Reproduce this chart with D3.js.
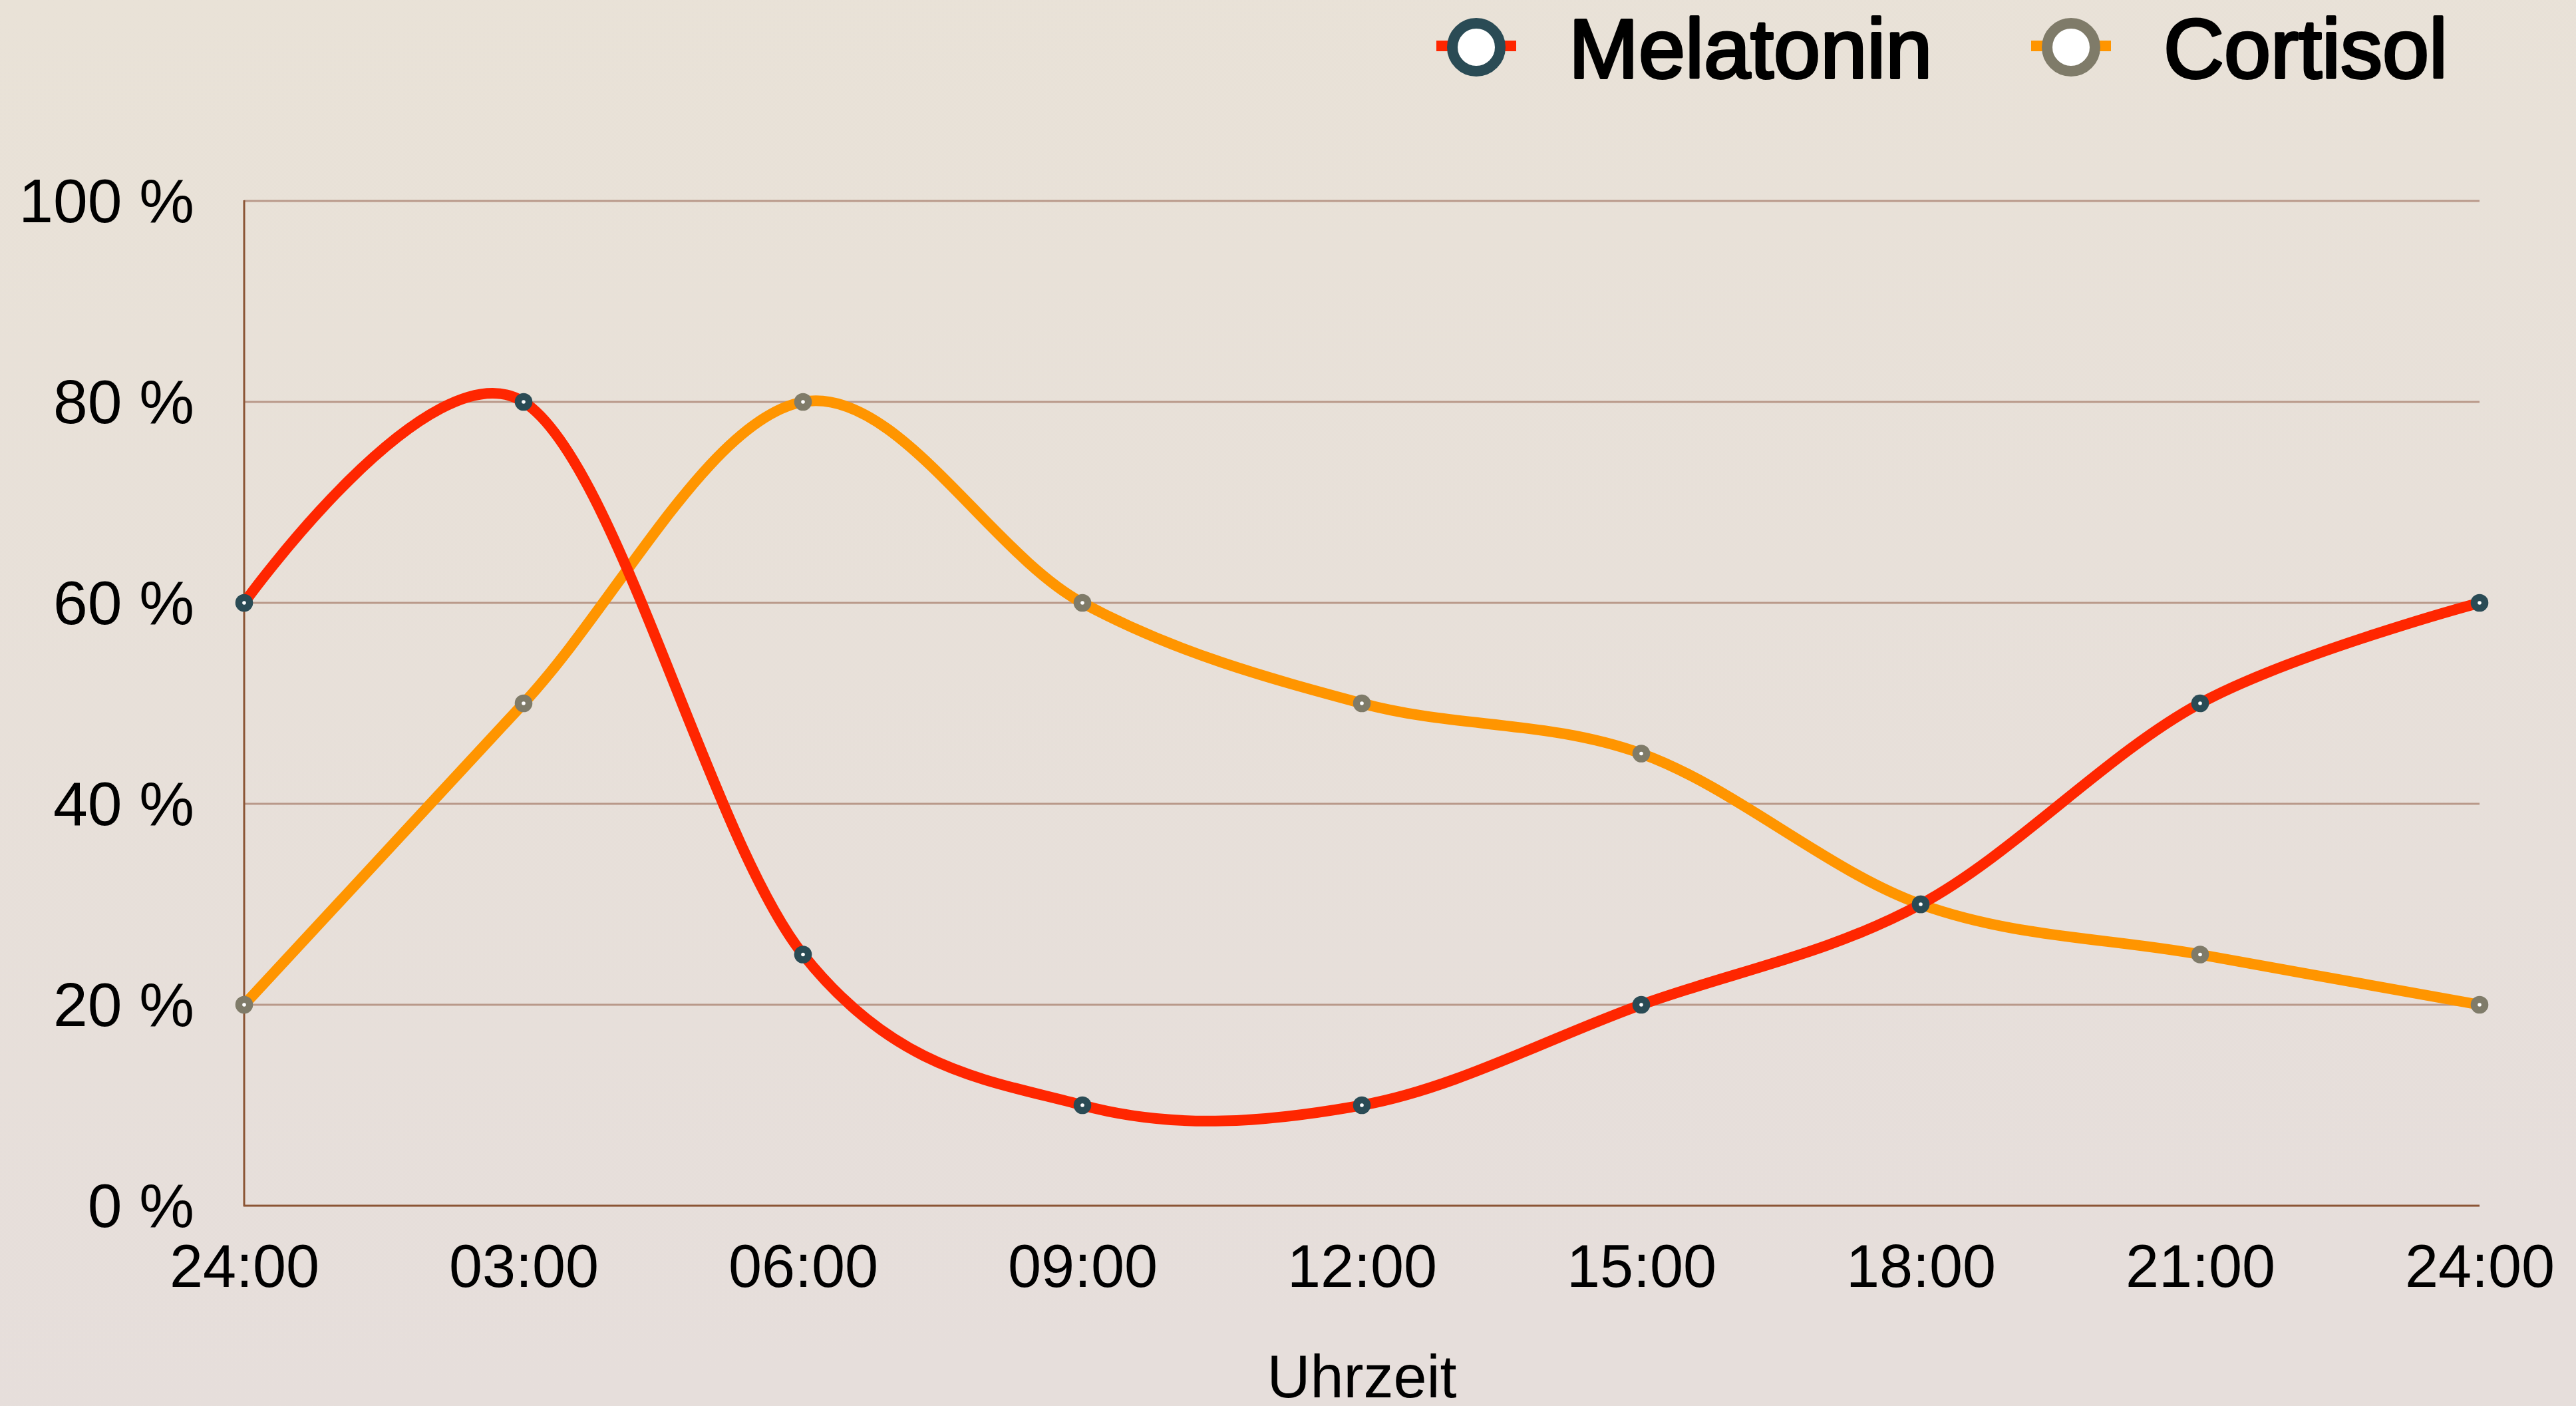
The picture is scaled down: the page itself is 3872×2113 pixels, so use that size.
<!DOCTYPE html>
<html>
<head>
<meta charset="utf-8">
<script src="https://cdn.jsdelivr.net/npm/d3@7"></script>
<style>
  html, body { margin: 0; padding: 0; }
  svg { display: block; }
</style>
</head>
<body>
<script>
const categories = ["24:00", "03:00", "06:00", "09:00", "12:00", "15:00", "18:00", "21:00", "24:00"];
const melatonin = [60, 80, 25, 10, 10, 20, 30, 50, 60];
const cortisol = [20, 50, 80, 60, 50, 45, 30, 25, 20];
const yTicks = [0, 20, 40, 60, 80, 100];
const seriesNames = ["Melatonin", "Cortisol"];
const xTitle = "Uhrzeit";

const W = 3872, H = 2113;
const margin = { left: 367, right: W - 3727, top: 302, bottom: H - 1812 };

const svg = d3.select("body").append("svg").attr("width", W).attr("height", H);
const defs = svg.append("defs");
const grad = defs.append("linearGradient").attr("id", "bg")
  .attr("x1", "0").attr("y1", "0").attr("x2", "0.15").attr("y2", "1");
grad.append("stop").attr("offset", "0").attr("stop-color", "#E9E2D7");
grad.append("stop").attr("offset", "1").attr("stop-color", "#E6DEDB");
svg.append("rect").attr("width", W).attr("height", H).attr("fill", "url(#bg)");

const x = d3.scalePoint().domain(d3.range(categories.length)).range([margin.left, W - margin.right]);
const y = d3.scaleLinear().domain([0, 100]).range([H - margin.bottom, margin.top]);

const font = "'Liberation Sans', Arial, Helvetica, sans-serif";

// gridlines
svg.append("g").selectAll("line").data(yTicks.filter(d => d > 0)).join("line")
  .attr("x1", margin.left).attr("x2", W - margin.right)
  .attr("y1", d => y(d)).attr("y2", d => y(d))
  .attr("stroke", "#B9998A").attr("stroke-width", 3);

// axes lines
svg.append("line").attr("x1", margin.left).attr("x2", margin.left)
  .attr("y1", y(100) - 1).attr("y2", y(0) + 1)
  .attr("stroke", "#8B5535").attr("stroke-width", 3);
svg.append("line").attr("x1", margin.left - 1).attr("x2", W - margin.right)
  .attr("y1", y(0)).attr("y2", y(0))
  .attr("stroke", "#8B5535").attr("stroke-width", 3);

// y tick labels
const yAxis = d3.axisLeft(y).tickValues(yTicks).tickSize(0).tickPadding(75).tickFormat(d => d + " %");
const gy = svg.append("g").attr("transform", `translate(${margin.left},0)`).call(yAxis);
gy.select(".domain").remove();
gy.selectAll("text").attr("font-family", font).attr("font-size", 93).attr("fill", "#000").attr("dy", "0.34em");

// x tick labels
const xAxis = d3.axisBottom(x).tickSize(0).tickPadding(58).tickFormat(i => categories[i]);
const gx = svg.append("g").attr("transform", `translate(0,${y(0)})`).call(xAxis);
gx.select(".domain").remove();
gx.selectAll("text").attr("font-family", font).attr("font-size", 90).attr("fill", "#000").attr("dy", "0.71em");

// x title
svg.append("text").attr("x", (margin.left + W - margin.right) / 2).attr("y", 2100)
  .attr("text-anchor", "middle").attr("font-family", font).attr("font-size", 90).attr("fill", "#000")
  .text(xTitle);

const line = d3.line().x((d, i) => x(i)).y(d => y(d)).curve(d3.curveCardinal.tension(0));

const series = [
  { name: seriesNames[1], values: cortisol, color: "#FF9500", marker: "#7F7B69" },
  { name: seriesNames[0], values: melatonin, color: "#FF2600", marker: "#2A4B55" }
];

series.forEach(s => {
  svg.append("path").datum(s.values).attr("d", line)
    .attr("fill", "none").attr("stroke", s.color).attr("stroke-width", 16)
    .attr("stroke-linejoin", "round");
});
series.forEach(s => {
  const g = svg.append("g");
  g.selectAll("circle.m").data(s.values).join("circle").attr("class", "m")
    .attr("cx", (d, i) => x(i)).attr("cy", d => y(d)).attr("r", 13.3).attr("fill", s.marker);
  g.selectAll("circle.w").data(s.values).join("circle").attr("class", "w")
    .attr("cx", (d, i) => x(i)).attr("cy", d => y(d)).attr("r", 2.8).attr("fill", "#fff");
});

// legend
const legend = [
  { name: seriesNames[0], color: "#FF2600", marker: "#2A4B55", cx: 2219 },
  { name: seriesNames[1], color: "#FF9500", marker: "#7F7B69", cx: 3113 }
];
legend.forEach(l => {
  const g = svg.append("g");
  g.append("line").attr("x1", l.cx - 60).attr("x2", l.cx + 60).attr("y1", 69).attr("y2", 69)
    .attr("stroke", l.color).attr("stroke-width", 16);
  g.append("circle").attr("cx", l.cx).attr("cy", 71).attr("r", 36)
    .attr("fill", "#fff").attr("stroke", l.marker).attr("stroke-width", 16);
  g.append("text").attr("x", l.cx + 139).attr("y", 117)
    .attr("font-family", font).attr("font-size", 126).attr("fill", "#000")
    .attr("stroke", "#000").attr("stroke-width", 4).attr("stroke-linejoin", "round")
    .text(l.name);
});
</script>
</body>
</html>
